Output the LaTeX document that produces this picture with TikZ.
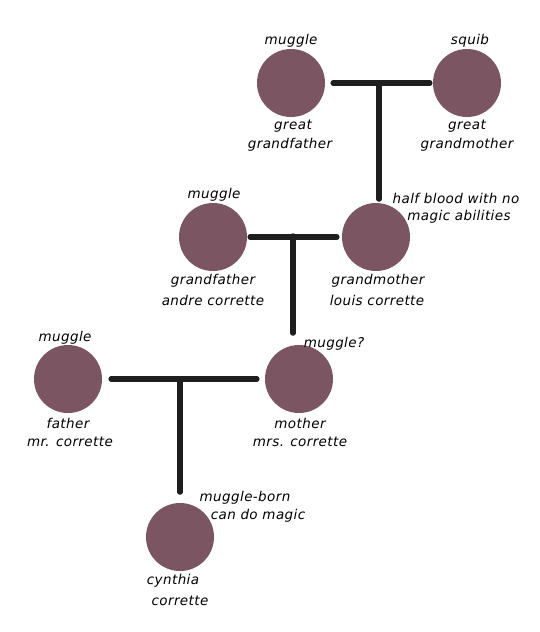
\documentclass[tikz,border=0pt]{standalone}
\usepackage{fontspec}
\setmainfont{DejaVu Sans}
\newfontfamily\lblfont[LetterSpace=3]{DejaVu Sans}
\definecolor{person}{HTML}{7B5561}
\definecolor{bar}{HTML}{1E1E1E}
\begin{document}
\begin{tikzpicture}[x=1pt,y=-1pt,
  person/.style={circle,fill=person,minimum size=68pt,inner sep=0pt},
  lbl/.style={font=\lblfont\fontsize{13.5}{14}\selectfont\itshape,text=black,inner sep=0pt},
  link/.style={line width=5.5pt,draw=bar,line cap=round}]
\useasboundingbox (0,0) rectangle (540,632);
\fill[white] (0,0) rectangle (540,632);
% people
\node[person] (ggf) at (291,83) {};
\node[person] (ggm) at (467,83) {};
\node[person] (gf) at (213,237) {};
\node[person] (gm) at (376,237) {};
\node[person] (fa) at (68,379) {};
\node[person] (mo) at (299,379) {};
\node[person] (cy) at (180,537) {};
% junctions
\coordinate (j1) at (379,84);
\coordinate (j1b) at (379,199);
\coordinate (j2) at (293,236);
\coordinate (j2b) at (293,333);
\coordinate (j3) at (180,380);
\coordinate (j3b) at (180,492);
\draw[link] ([xshift=8pt]ggf.east) -- ([xshift=-3pt]ggm.west);
\draw[link] (j1) -- (j1b);
\draw[link] ([xshift=3pt]gf.east) -- ([xshift=-5pt]gm.west);
\draw[link] (j2) -- (j2b);
\draw[link] ([xshift=9pt]fa.east) -- ([xshift=-8pt]mo.west);
\draw[link] (j3) -- (j3b);
% labels
\node[lbl] (t1) at (291,41) {muggle};
\node[lbl] (t2) at (293,126) {great};
\node[lbl] (t3) at (290,145) {grandfather};
\node[lbl] (t4) at (470,41) {squib};
\node[lbl] (t5) at (467,126) {great};
\node[lbl] (t6) at (467,145) {grandmother};
\node[lbl] (t7) at (456,198) {half blood with no};
\node[lbl] (t8) at (459,217) {magic abilities};
\node[lbl] (t9) at (214,195) {muggle};
\node[lbl] (t10) at (213,281) {grandfather};
\node[lbl] (t11) at (213,300) {andre corrette};
\node[lbl] (t12) at (378,281) {grandmother};
\node[lbl] (t13) at (377,300) {louis corrette};
\node[lbl] (t14) at (65,338) {muggle};
\node[lbl] (t15) at (68,423) {father};
\node[lbl] (t16) at (70,442) {mr. corrette};
\node[lbl] (t17) at (334,344) {muggle?};
\node[lbl] (t18) at (300,423) {mother};
\node[lbl] (t19) at (300,442) {mrs. corrette};
\node[lbl] (t20) at (245,498) {muggle-born};
\node[lbl] (t21) at (258,516) {can do magic};
\node[lbl] (t22) at (173,581) {cynthia};
\node[lbl] (t23) at (180,601) {corrette};
\end{tikzpicture}
\end{document}
